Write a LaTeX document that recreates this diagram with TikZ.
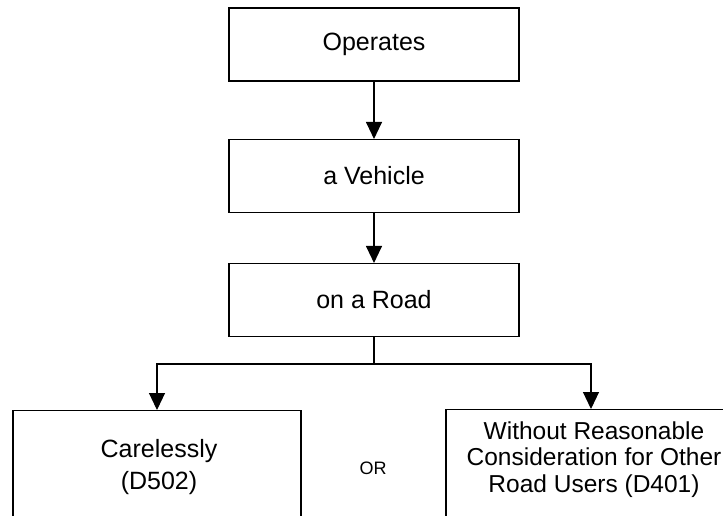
\documentclass[tikz,border=0pt]{standalone}
\usepackage{fontspec}
\setmainfont{Liberation Sans}
\usetikzlibrary{arrows.meta}
\begin{document}
\begin{tikzpicture}[x=1pt,y=-1pt,
  stepbox/.style={draw=black,line width=1.1pt,rectangle,minimum width=290pt,
    minimum height=73pt,inner sep=0pt,
    font=\fontsize{25}{26.5}\selectfont},
  leafbox/.style={draw=black,line width=1.1pt,rectangle,minimum width=290pt,
    minimum height=140pt,inner sep=0pt,anchor=north},
  leaftext/.style={align=center,inner sep=0pt},
  link/.style={draw=black,line width=1.1pt},
  arrow/.style={link,-{Triangle[width=16pt,length=17pt]}}]
  \useasboundingbox (0,0) rectangle (723,515);
  \clip (0,0) rectangle (723,515);
  \fill[white] (0,0) rectangle (723,515);

  % chain of the offence elements
  \node[stepbox] (operates) at (374,44.5) {Operates};
  \node[stepbox] (vehicle)  at (374,176)  {a Vehicle};
  \node[stepbox] (road)     at (374,300)  {on a Road};

  % the two alternatives (cut at the page edge)
  \node[leafbox,minimum width=288pt] (careless) at (157,410) {};
  \node[leafbox] (inconsiderate) at (591,409) {};
  \node[leaftext,font=\fontsize{25}{32}\selectfont] (carelesstext) at (159,467.5)
    {Carelessly\\(D502)};
  \node[leaftext,font=\fontsize{24.5}{26.5}\selectfont] (inconsideratetext) at (594,459.5)
    {Without Reasonable\\Consideration for Other\\Road Users (D401)};
  \node[inner sep=0pt,font=\fontsize{18}{20}\selectfont] (or) at (373,468) {OR};

  % connectors
  \draw[arrow] (operates) -- (vehicle);
  \draw[arrow] (vehicle) -- (road);
  \coordinate (split) at (374,364);
  \draw[link] (road) -- (split);
  \draw[arrow] (split) -| (careless.north);
  \draw[arrow] (split) -| (inconsiderate.north);
\end{tikzpicture}
\end{document}
